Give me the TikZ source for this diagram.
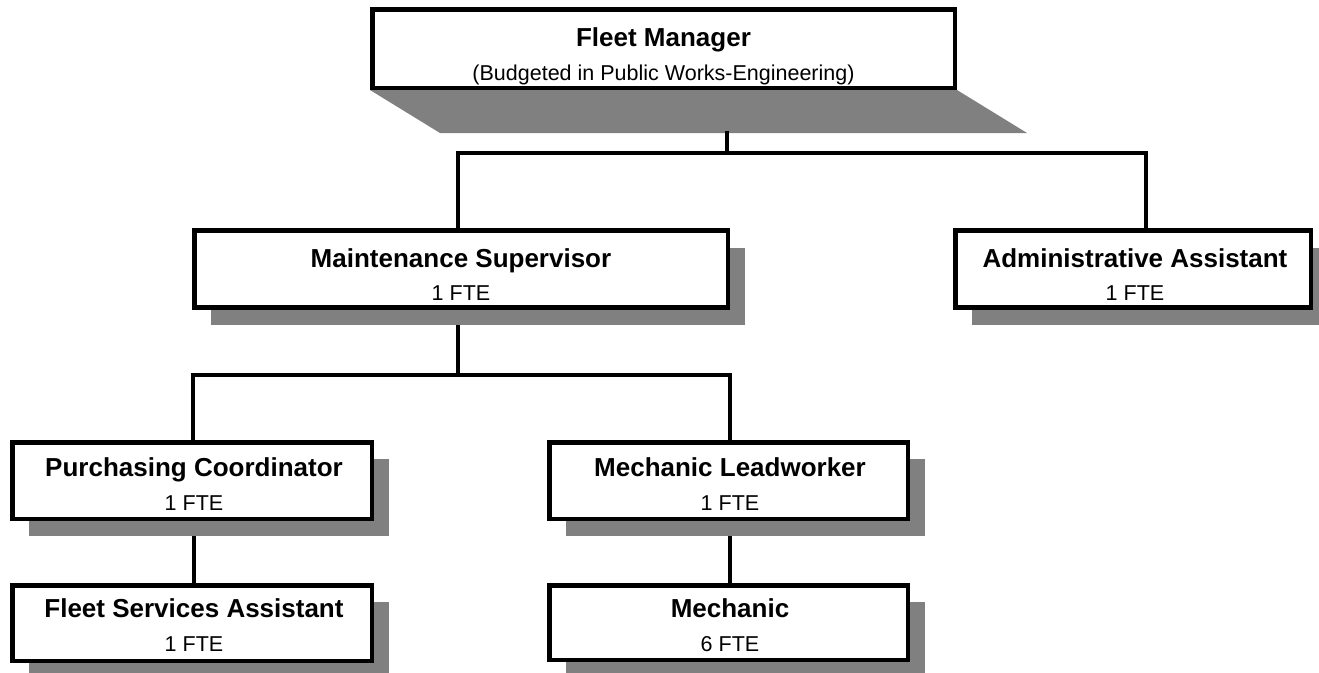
\documentclass[tikz,border=0pt]{standalone}
\usepackage{fontspec}
\setmainfont{Liberation Sans}
\usetikzlibrary{shadows}
\definecolor{shadowgray}{HTML}{808080}
\pgfdeclarelayer{bg}
\pgfsetlayers{bg,main}
\begin{document}
\begin{tikzpicture}[x=1pt,y=-1pt,
  box/.style={draw=black, line width=4.5pt, fill=white, inner sep=0pt,
    minimum height=77pt},
  shadowed/.style={drop shadow={shadow xshift=17pt, shadow yshift=-17pt,
    fill=shadowgray, opacity=1}},
  conn/.style={draw=black, line width=4.5pt},
  title/.style={anchor=base, inner sep=0pt, font=\fontsize{26}{30}\selectfont\bfseries},
  sub/.style={anchor=base, inner sep=0pt, font=\fontsize{21.5}{25}\selectfont}]
\useasboundingbox (0,0) rectangle (1319,672);

% boxes
\node[box, minimum width=582.5pt, minimum height=78.5pt] (fm) at (663.5,48.5) {};
\node[box, shadowed, minimum width=533.5pt] (ms) at (461,269) {};
\node[box, shadowed, minimum width=355.5pt] (aa) at (1133,269) {};
\node[box, shadowed, minimum width=359.5pt, minimum height=76.5pt] (pc) at (192,480.5) {};
\node[box, shadowed, minimum width=358.5pt, minimum height=76.5pt] (lw) at (728.5,480.5) {};
\node[box, shadowed, minimum width=359.5pt, minimum height=75.5pt] (fs) at (192,623) {};
\node[box, shadowed, minimum width=358.5pt, minimum height=74.5pt] (me) at (728.5,622.5) {};

% texts
\node[title] (fmT) at (663.5,46.5) {Fleet Manager};
\node[sub] (fmS) at (663.5,80) {(Budgeted in Public Works-Engineering)};
\node[title] (msT) at (461,267) {Maintenance Supervisor};
\node[sub] (msS) at (461,300.5) {1 FTE};
\node[title] (aaT) at (1135,267) {Administrative Assistant};
\node[sub] (aaS) at (1135,300.5) {1 FTE};
\node[title] (pcT) at (194,476.5) {Purchasing Coordinator};
\node[sub] (pcS) at (194,510) {1 FTE};
\node[title] (lwT) at (730,476.5) {Mechanic Leadworker};
\node[sub] (lwS) at (730,510) {1 FTE};
\node[title] (fsT) at (194,617) {Fleet Services Assistant};
\node[sub] (fsS) at (194,651) {1 FTE};
\node[title] (meT) at (730,617) {Mechanic};
\node[sub] (meS) at (730,651) {6 FTE};

% connectors and top shadow
\coordinate (fmsh) at (727,131);
\coordinate (j1) at (727,153);
\coordinate (j2) at (458,375);
\begin{pgfonlayer}{bg}
\fill[shadowgray] (fm.south west) -- (fm.south east) -- ++(70,43) -- ++(-587,0) -- cycle;
\draw[conn] (fmsh) -- (j1);
\draw[conn] ([xshift=-3pt]ms.north) |- (j1) -| ([xshift=13pt]aa.north);
\draw[conn] ([xshift=-3pt]ms.south) -- (j2);
\draw[conn] ([xshift=1pt]pc.north) |- (j2) -| ([xshift=1.5pt]lw.north);
\draw[conn] ([xshift=2pt]pc.south) -- ([xshift=2pt]fs.north);
\draw[conn] ([xshift=1.5pt]lw.south) -- ([xshift=1.5pt]me.north);
\end{pgfonlayer}
\end{tikzpicture}
\end{document}
